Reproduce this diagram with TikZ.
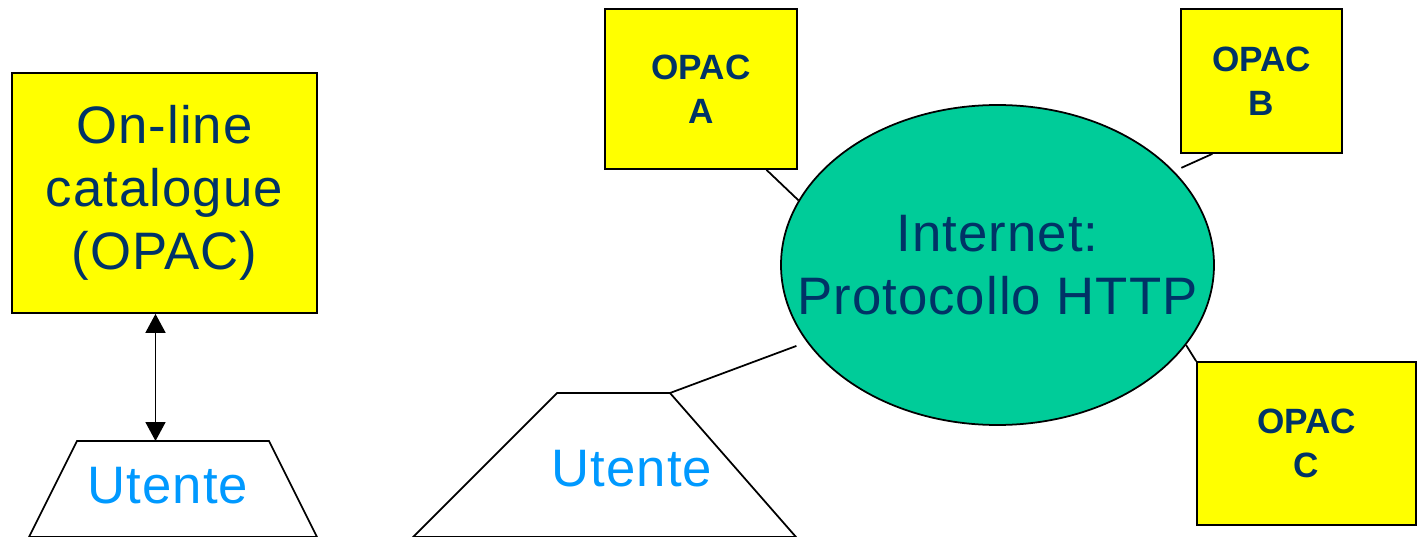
\documentclass[tikz,border=0pt]{standalone}
\usepackage{fontspec}
\setmainfont{Liberation Sans}
\usetikzlibrary{shapes.geometric,arrows.meta}
\definecolor{opacyellow}{HTML}{FFFF00}
\definecolor{textblue}{HTML}{003366}
\definecolor{userblue}{HTML}{0099FF}
\definecolor{netgreen}{HTML}{00CC99}
\newcommand{\bigtext}{\fontsize{30}{35.8}\selectfont\addfontfeatures{LetterSpace=2}}
\begin{document}
\begin{tikzpicture}[
  box/.style={draw, line width=1pt, fill=opacyellow, text=textblue, align=center},
  opac/.style={box, font=\fontsize{20}{25}\selectfont\bfseries},
  user/.style={draw, line width=1pt, line join=miter},
  usertext/.style={anchor=base, text=userblue, font=\bigtext},
  link/.style={line width=1pt},
  both/.style={link, {Triangle[length=0.38cm,width=0.4cm]}-{Triangle[length=0.38cm,width=0.4cm]}}
]
  \useasboundingbox (0,0) rectangle (28.4,-10.74);
  \node[box, minimum width=6.1cm, minimum height=4.8cm, font=\bigtext] (cat) at (3.29,-3.86) {On-line\\catalogue\\(OPAC)};
  \draw[user] (0.58,-10.74) -- (1.54,-8.82) -- (5.38,-8.82) -- (6.34,-10.74) -- cycle;
  \node[usertext] (utL) at (3.36,-10.06) {Utente};
  \coordinate (arrx) at (3.11,0);
  \coordinate (utLtop) at (3.11,-8.82);
  \draw[both] (cat.south -| arrx) -- (utLtop);

  \node[draw, ellipse, line width=1pt, fill=netgreen, minimum width=8.66cm, minimum height=6.4cm, inner sep=0pt] (net) at (19.95,-5.3) {};
  \node[text=textblue, align=center, font=\bigtext] (nettext) at (net) {Internet:\\Protocollo HTTP};

  \node[opac, minimum width=3.84cm, minimum height=3.2cm] (opacA) at (14.02,-1.78) {OPAC\\A};
  \node[opac, minimum width=3.22cm, minimum height=2.88cm] (opacB) at (25.23,-1.62) {OPAC\\B};
  \node[opac, minimum width=4.38cm, minimum height=3.26cm] (opacC) at (26.13,-8.87) {OPAC\\C};

  \draw[user] (8.26,-10.74) -- (11.14,-7.86) -- (13.4,-7.86) -- (15.92,-10.74) -- cycle;
  \coordinate (utRcorner) at (13.4,-7.86);
  \node[usertext] (utR) at (12.64,-9.72) {Utente};

  \draw[link] (opacA.-51) -- (net.162);
  \draw[link, shorten >=0.16cm] (opacB.-124) -- (net.28);
  \draw[link] (net.-23) -- (opacC.north west);
  \draw[link, shorten >=0.22cm] (utRcorner) -- (net.202);
\end{tikzpicture}
\end{document}
